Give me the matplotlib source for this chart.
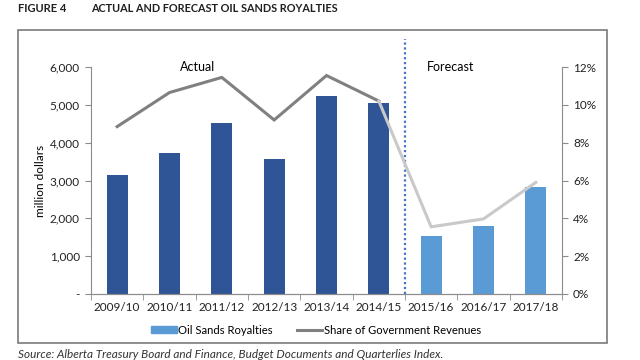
import matplotlib.pyplot as plt
from matplotlib.lines import Line2D
from matplotlib.patches import Patch, Rectangle
from matplotlib.ticker import FuncFormatter

# ---- DATA ----------------------------------------------------------------
years = ["2009/10", "2010/11", "2011/12", "2012/13", "2013/14",
         "2014/15", "2015/16", "2016/17", "2017/18"]
royalties = [3150, 3730, 4520, 3570, 5240, 5060, 1540, 1800, 2830]   # million $
share = [8.85, 10.65, 11.45, 9.2, 11.55, 10.2, 3.55, 3.97, 5.9]        # % of revenues
n_actual = 6  # first six years are actuals, the rest forecast

DARK_BLUE = "#2f5597"
LIGHT_BLUE = "#5b9bd5"
DARK_GREY = "#808080"
LIGHT_GREY = "#c9c9c9"
AXIS_GREY = "#8c8c8c"

plt.rcParams["font.family"] = ["Lato", "DejaVu Sans"]

fig = plt.figure(figsize=(6.4, 3.6), dpi=100)
ax = fig.add_axes([91 / 640, 1 - 294 / 360, 471 / 640, 227 / 360])
ax2 = ax.twinx()

x = list(range(len(years)))
colors = [DARK_BLUE if i < n_actual else LIGHT_BLUE for i in x]
ax.bar(x, royalties, width=0.4, color=colors, zorder=2)

# share line: actual part dark, forecast part (incl. the drop) light
ax2.plot(x[:n_actual], share[:n_actual], color=DARK_GREY, lw=2.2,
         solid_joinstyle="miter")
ax2.plot(x[n_actual - 1:], share[n_actual - 1:], color=LIGHT_GREY, lw=2.2,
         solid_joinstyle="miter")

ax.set_xlim(-0.5, len(years) - 0.5)
ax.set_ylim(0, 6000)
ax2.set_ylim(0, 12)
ax.set_yticks(range(0, 6001, 1000))
ax2.set_yticks(range(0, 13, 2))
ax.yaxis.set_major_formatter(FuncFormatter(lambda v, p: "-" if v == 0 else f"{v:,.0f}"))
ax2.yaxis.set_major_formatter(FuncFormatter(lambda v, p: f"{v:.0f}%"))

ax.set_xticks(x)
ax.set_xticklabels(years)
ax.set_xticks([i + 0.5 for i in x[:-1]] + [-0.5, len(years) - 0.5], minor=True)
ax.tick_params(axis="x", which="major", length=0, pad=6, labelsize=8.5, colors="#222222")
ax.tick_params(axis="x", which="minor", length=4, color=AXIS_GREY)
ax.tick_params(axis="y", length=4, color=AXIS_GREY, labelsize=8.5, labelcolor="#222222", pad=4)
ax2.tick_params(axis="y", length=4, color=AXIS_GREY, labelsize=8.5, labelcolor="#222222", pad=4)

for a in (ax, ax2):
    for side in ("top", "right", "left"):
        a.spines[side].set_visible(False)
    a.spines["bottom"].set_color(AXIS_GREY)
ax.spines["left"].set_visible(True)
ax.spines["left"].set_color(AXIS_GREY)
ax2.spines["right"].set_visible(True)
ax2.spines["right"].set_color(AXIS_GREY)

ax.set_ylabel("million dollars", fontsize=8.5, labelpad=3)

# actual / forecast divider
ax.axvline(n_actual - 0.5, ymin=0, ymax=(294 - 39) / 227, color="#4472c4",
           lw=1.6, ls=(0, (1, 1.2)), clip_on=False, zorder=3)
ax.text(1.54, 6000, "Actual", fontsize=9, ha="center", va="center")
ax.text(6.38, 6000, "Forecast", fontsize=9, ha="center", va="center")

handles = [Patch(color=LIGHT_BLUE), Line2D([], [], color=DARK_GREY, lw=2.2)]
fig.legend(handles, ["Oil Sands Royalties", "Share of Government Revenues"],
           loc="center", bbox_to_anchor=(316 / 640, 1 - 330 / 360), ncol=2,
           frameon=False, fontsize=8.1, handlelength=2.3, handleheight=0.5,
           columnspacing=2.1, handletextpad=0.15)

# outer frame
fig.patches.append(Rectangle((18 / 640, 1 - 343 / 360), 589 / 640, 313 / 360,
                             transform=fig.transFigure, fill=False,
                             edgecolor="#7a7a7a", lw=1.2))

fig.text(18 / 640, 1 - 9 / 360, "FIGURE 4", fontsize=8, weight="bold",
         va="center", color="#231f20")
fig.text(91 / 640, 1 - 9 / 360, "ACTUAL AND FORECAST OIL SANDS ROYALTIES",
         fontsize=7.8, weight="bold", va="center", color="#231f20")
fig.text(18 / 640, 1 - 354 / 360,
         "Source: Alberta Treasury Board and Finance, Budget Documents and Quarterlies Index.",
         fontsize=8.5, style="italic", va="center", color="#333333")

fig.savefig("out.png", dpi=100)
